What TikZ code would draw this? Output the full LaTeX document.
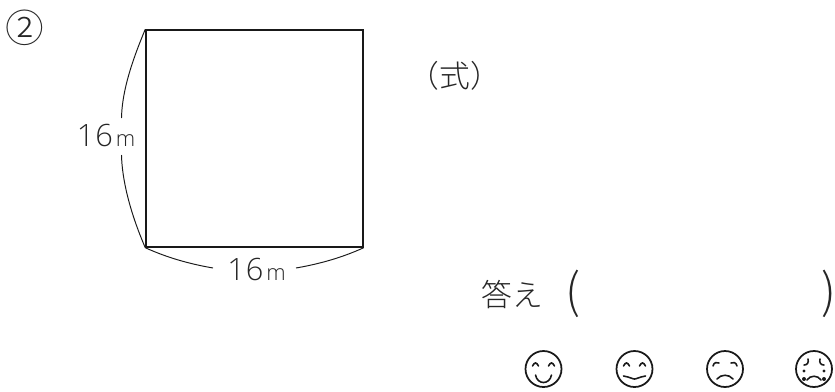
\documentclass[tikz,border=0pt]{standalone}
\usepackage{fontspec}
\setmainfont{Open Sans Light}
\newfontfamily\cjk{Noto Sans CJK JP Light}
\newcommand{\lengthlabel}{1\hspace{0.6pt}6\hspace{1.6pt}{\fontsize{12.5}{13}\selectfont m}}
\tikzset{
  x=0.02cm,y=-0.02cm,
  line/.style={line width=0.55pt,black!90},
  facering/.style={draw=black!90,line width=1pt,circle,minimum size=0.72cm,inner sep=0pt},
  facepart/.style={line width=0.9pt,black!90,line cap=round},
  label/.style={inner sep=0pt,black!85},
}
\begin{document}
\begin{tikzpicture}
    \useasboundingbox (0,0) rectangle (835,392);
    %% square
    \node[draw=black!90,line width=0.85pt,minimum size=4.34cm,inner sep=0pt] (square) at (254.5,138.5) {};
    %% lengths
    \node[label,font=\fontsize{17.5}{18}\selectfont] (left) at (106,136) {\lengthlabel};
    \node[label,font=\fontsize{17.5}{18}\selectfont] (bottom) at (256.5,269) {\lengthlabel};
    \coordinate (leftup) at (121.5,118);
    \coordinate (leftdown) at (121.5,155);
    \coordinate (bottomleft) at (213,268);
    \coordinate (bottomright) at (296,268);
    \draw[line] (square.north west) .. controls (129,68) and (122,95) .. (leftup);
    \draw[line] (square.south west) .. controls (129,210) and (122,178) .. (leftdown);
    \draw[line] (square.south west) .. controls (168,258) and (190,264) .. (bottomleft);
    \draw[line] (square.south east) .. controls (341,258) and (319,264) .. (bottomright);
    %% texts
    \node[label,font=\cjk\fontsize{22}{23}\selectfont] (number) at (25,28) {②};
    \node[label,font=\cjk\fontsize{17.5}{18}\selectfont] (formula) at (455,76) {（式）};
    \node[label,font=\cjk\fontsize{17.5}{18}\selectfont] (answer) at (512.5,295) {答え};
    \node[label,font=\cjk\fontsize{27}{28}\selectfont] (open) at (573,294) {(};
    \node[label,font=\cjk\fontsize{27}{28}\selectfont] (close) at (829,294) {)};
    %% faces
    \foreach \name/\x in {happy/543.5,glad/634.5,sad/725,cry/814}
        \node[facering] (\name) at (\x,369) {};
    \begin{scope}[shift={(happy)}]
        \draw[facepart] (-11,-3) .. controls (-9,-7) and (-7,-7) .. (-5,-3);
        \draw[facepart] (5,-3) .. controls (7,-7) and (9,-7) .. (11,-3);
        \draw[facepart] (-8,6) .. controls (-6,16) and (6,16) .. (8,6);
    \end{scope}
    \begin{scope}[shift={(glad)}]
        \draw[facepart] (-11,-3) .. controls (-9,-7) and (-7,-7) .. (-5,-3);
        \draw[facepart] (5,-3) .. controls (7,-7) and (9,-7) .. (11,-3);
        \draw[facepart] (-11,7) .. controls (-5,8) and (-2,10) .. (0,10) .. controls (2,10) and (5,8) .. (11,7);
    \end{scope}
    \begin{scope}[shift={(sad)}]
        \draw[facepart] (-12,-3) .. controls (-11,-7) and (-8,-7) .. (-6,-6);
        \draw[facepart] (6,-6) .. controls (8,-7) and (11,-7) .. (12,-3);
        \draw[facepart] (-8,10) .. controls (-4,5) and (4,5) .. (8,10);
    \end{scope}
    \begin{scope}[shift={(cry)}]
        \draw[facepart] (-6,-10) .. controls (-5,-6) and (-7,-4) .. (-10,-4);
        \draw[facepart] (6,-10) .. controls (5,-6) and (7,-4) .. (10,-4);
        \draw[facepart] (-7,11) .. controls (-4,6) and (4,6) .. (7,11);
        \foreach \tx in {-10,10} {
            \fill[black!90] (\tx,2) circle (1.6);
            \fill[black!90] (\tx,10) circle (2);
        }
    \end{scope}
\end{tikzpicture}
\end{document}
